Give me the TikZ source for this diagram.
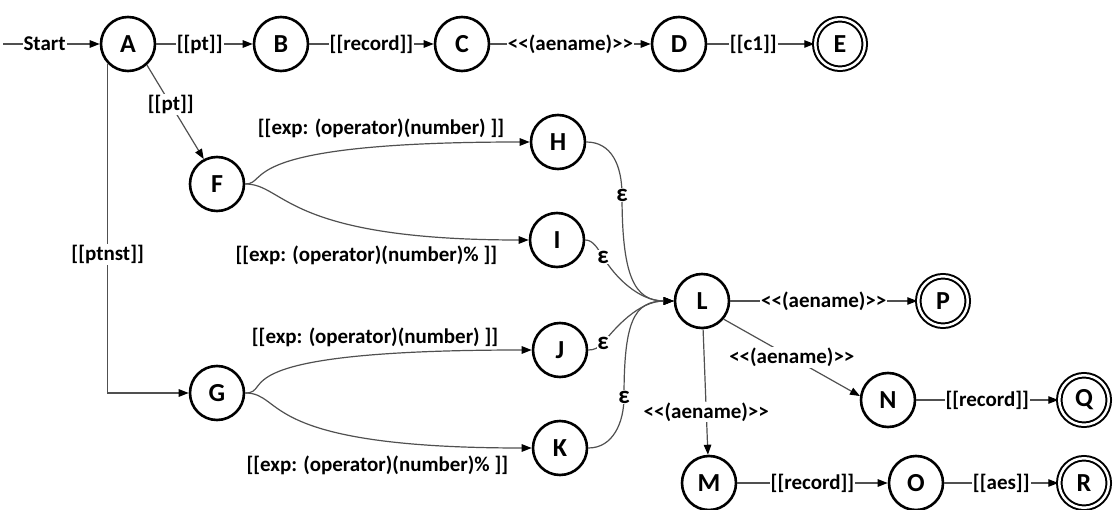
\documentclass[tikz,border=0pt]{standalone}
\usepackage{fontspec}
\newfontfamily\diafont{Carlito}
\usetikzlibrary{arrows.meta}
\definecolor{wire}{HTML}{505050}
\tikzset{
  stnode/.style={circle, draw=black, line width=2.6pt, minimum size=54pt, inner sep=0pt,
    font=\diafont\fontsize{26}{30}\selectfont\bfseries},
  acnode/.style={circle, draw=black, line width=2pt, double, double distance=2.5pt,
    minimum size=49.5pt, inner sep=0pt, font=\diafont\fontsize{26}{30}\selectfont\bfseries},
  conn/.style={draw=wire, line width=1.2pt,
    -{Triangle[length=10pt,width=7.5pt,color=black,fill=black]}},
  lbl/.style={fill=white, inner sep=1pt, text=black,
    font=\diafont\fontsize{21}{24}\selectfont\bfseries},
  epslbl/.style={lbl, inner sep=0.5pt, font=\diafont\fontsize{25}{28}\selectfont\bfseries},
}
\begin{document}
\begin{tikzpicture}[x=1pt, y=-1pt]
\useasboundingbox (0,0) rectangle (1115,510);

% states
\node[stnode] (A) at (128,44) {A};
\node[stnode] (B) at (281,44) {B};
\node[stnode] (C) at (462,44) {C};
\node[stnode] (D) at (679,44) {D};
\node[acnode] (E) at (840,44) {E};
\node[stnode] (F) at (217,184) {F};
\node[stnode] (H) at (558,142) {H};
\node[stnode] (I) at (557,240) {I};
\node[stnode] (G) at (217,393) {G};
\node[stnode] (J) at (560,350) {J};
\node[stnode] (K) at (560,448) {K};
\node[stnode] (L) at (702,301) {L};
\node[acnode] (P) at (943,301) {P};
\node[stnode] (N) at (888,400) {N};
\node[acnode] (Q) at (1084,400) {Q};
\node[stnode] (M) at (709,483) {M};
\node[stnode] (O) at (916,483) {O};
\node[acnode] (R) at (1084,483) {R};

% entry and top row
\coordinate (s0) at (3,44);
\draw[conn] (s0) -- node[lbl, pos=0.43] {Start} (A);
\draw[conn] (A) -- node[lbl, pos=0.45] {[[pt]]} (B);
\draw[conn] (B) -- node[lbl] {[[record]]} (C);
\draw[conn] (C) -- node[lbl] {<<(aename)>>} (D);
\draw[conn] (D) -- node[lbl, pos=0.43] {[[c1]]} (E);

% branches out of A
\draw[conn] (A.-48) -- node[lbl, pos=0.42] {[[pt]]} (F.118);
\draw[conn] (A.224) |- node[lbl, pos=0.29] {[[ptnst]]} (G);

% expression branches
\draw[conn] (F.east) .. controls +(25,0) and +(-300,0) .. (H.west)
  node[lbl, anchor=east, xshift=-24pt, yshift=14pt] {[[exp: (operator)(number) ]]};
\draw[conn] (F.east) .. controls +(40,0) and +(-245,0) .. (I.west)
  node[lbl, anchor=east, xshift=-30pt, yshift=-15pt] {[[exp: (operator)(number)\% ]]};
\draw[conn] (G.east) .. controls +(30,0) and +(-320,0) .. (J.west)
  node[lbl, anchor=east, xshift=-32pt, yshift=13pt] {[[exp: (operator)(number) ]]};
\draw[conn] (G.east) .. controls +(40,0) and +(-276,0) .. (K.west)
  node[lbl, anchor=east, xshift=-22pt, yshift=-17pt] {[[exp: (operator)(number)\% ]]};

% epsilon moves into L
\coordinate (eH) at (622,195);
\coordinate (eI) at (603,257);
\coordinate (eJ) at (603,343);
\coordinate (eK) at (624,397);
\draw[conn] (H.east) .. controls +(25,0) and +(0,-30) .. (eH) node[epslbl] {ε}
  .. controls +(0,80) and +(-40,0) .. (L.west);
\draw[conn] (I.east) .. controls +(8,0) and +(-5,-8) .. (eI) node[epslbl] {ε}
  .. controls +(12,20) and +(-35,0) .. (L.west);
\draw[conn] (J.east) .. controls +(6,0) and +(-5,5) .. (eJ) node[epslbl] {ε}
  .. controls +(12,-15) and +(-35,0) .. (L.west);
\draw[conn] (K.east) .. controls +(25,0) and +(0,25) .. (eK) node[epslbl] {ε}
  .. controls +(0,-75) and +(-40,0) .. (L.west);

% moves out of L
\draw[conn] (L) -- node[lbl] {<<(aename)>>} (P);
\draw[conn] (L.-40) -- node[lbl] {<<(aename)>>} (N.172);
\draw[conn] (L) -- node[lbl, pos=0.66] {<<(aename)>>} (M);
\draw[conn] (N) -- node[lbl] {[[record]]} (Q);
\draw[conn] (M) -- node[lbl] {[[record]]} (O);
\draw[conn] (O) -- node[lbl] {[[aes]]} (R);
\end{tikzpicture}
\end{document}
